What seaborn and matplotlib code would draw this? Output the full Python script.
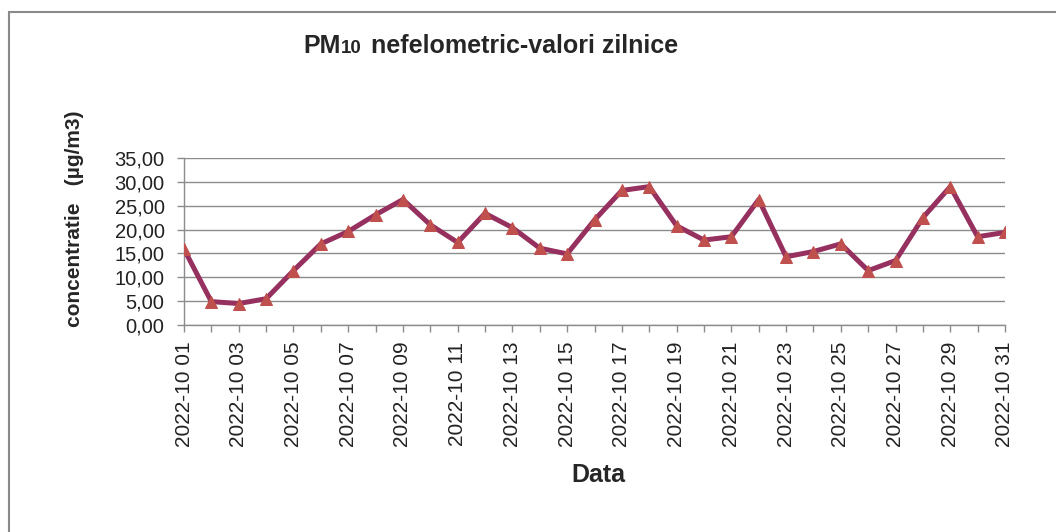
import pandas as pd
import matplotlib
matplotlib.use("Agg")
import matplotlib.pyplot as plt
from matplotlib.patches import Rectangle
import seaborn as sns

# ------------------------------
# Data
# ------------------------------
days = list(range(1, 32))
pm10 = [15.9, 4.9, 4.5, 5.5, 11.4, 17.0, 19.6, 23.1, 26.3, 21.0,
        17.3, 23.4, 20.4, 16.1, 14.9, 22.0, 28.2, 29.0, 20.8, 17.8,
        18.5, 26.3, 14.3, 15.4, 17.0, 11.4, 13.5, 22.5, 29.0, 18.5,
        19.4]
day_labels = ["2022-10 %02d" % d for d in days]
y_ticks = [0, 5, 10, 15, 20, 25, 30, 35]
y_tick_labels = ["0,00", "5,00", "10,00", "15,00", "20,00", "25,00", "30,00", "35,00"]

df = pd.DataFrame({"zi": days, "pm10": pm10})

# ------------------------------
# Style
# ------------------------------
sns.set_theme(style="white")
plt.rcParams['font.family'] = ['Liberation Sans', 'DejaVu Sans']

fig = plt.figure(figsize=(10.56, 5.32), dpi=100)
ax = fig.add_axes([184/1056, 1 - 325/532, (1005 - 184)/1056, (325 - 158)/532])

grid_col = "#8c8c8c"

sns.lineplot(data=df, x="zi", y="pm10", ax=ax, color="#96305f", linewidth=3.6,
             marker="^", markersize=8.5, markerfacecolor="#c0504d",
             markeredgecolor="#c0504d", zorder=3)

ax.set_xlim(1, 31)
ax.set_ylim(0, 35)
ax.set_yticks(y_ticks)
ax.set_yticklabels(y_tick_labels, fontsize=14.5, color="#222222")
ax.set_xticks(days)
ax.set_xticklabels([lbl if i % 2 == 0 else "" for i, lbl in enumerate(day_labels)],
                   rotation=90, fontsize=15, color="#222222")
ax.tick_params(axis="both", direction="out", length=5, width=1, color=grid_col,
               bottom=True, left=True)
ax.tick_params(axis="y", pad=9)
ax.tick_params(axis="x", pad=7)
ax.yaxis.grid(True, color=grid_col, linewidth=1)
ax.set_axisbelow(True)
for side in ["top", "right"]:
    ax.spines[side].set_visible(False)
for side in ["left", "bottom"]:
    ax.spines[side].set_color(grid_col)
    ax.spines[side].set_linewidth(1)
ax.set_xlabel("")
ax.set_ylabel("")

# ------------------------------
# Title: PM + smaller "10" on the same baseline + rest
# ------------------------------
renderer = fig.canvas.get_renderer()
base_y = 1 - 53/532
x0 = 303/1056
pieces = [("PM", 18, 0), ("10", 13.5, 10), ("nefelometric-valori zilnice", 18, 0)]
for txt, size, gap in pieces:
    t = fig.text(x0, base_y, txt, fontsize=size, fontweight="bold", va="baseline")
    bb = t.get_window_extent(renderer)
    x0 += (bb.width + gap) / 1056

fig.text(75/1056, 1 - 219/532, "concentratie   (µg/m3)", rotation=90, fontsize=15,
         fontweight="bold", ha="center", va="center")
fig.text(598/1056, 1 - 475/532, "Data", fontsize=18, fontweight="bold",
         ha="center", va="center")

# outer chart border
fig.patches.append(Rectangle((9/1056, -0.05), 1.2, 1.05 - 12/532,
                             transform=fig.transFigure, fill=False,
                             edgecolor="#8a8a8a", linewidth=1.5))

fig.savefig("out.png", dpi=100, facecolor="white")
